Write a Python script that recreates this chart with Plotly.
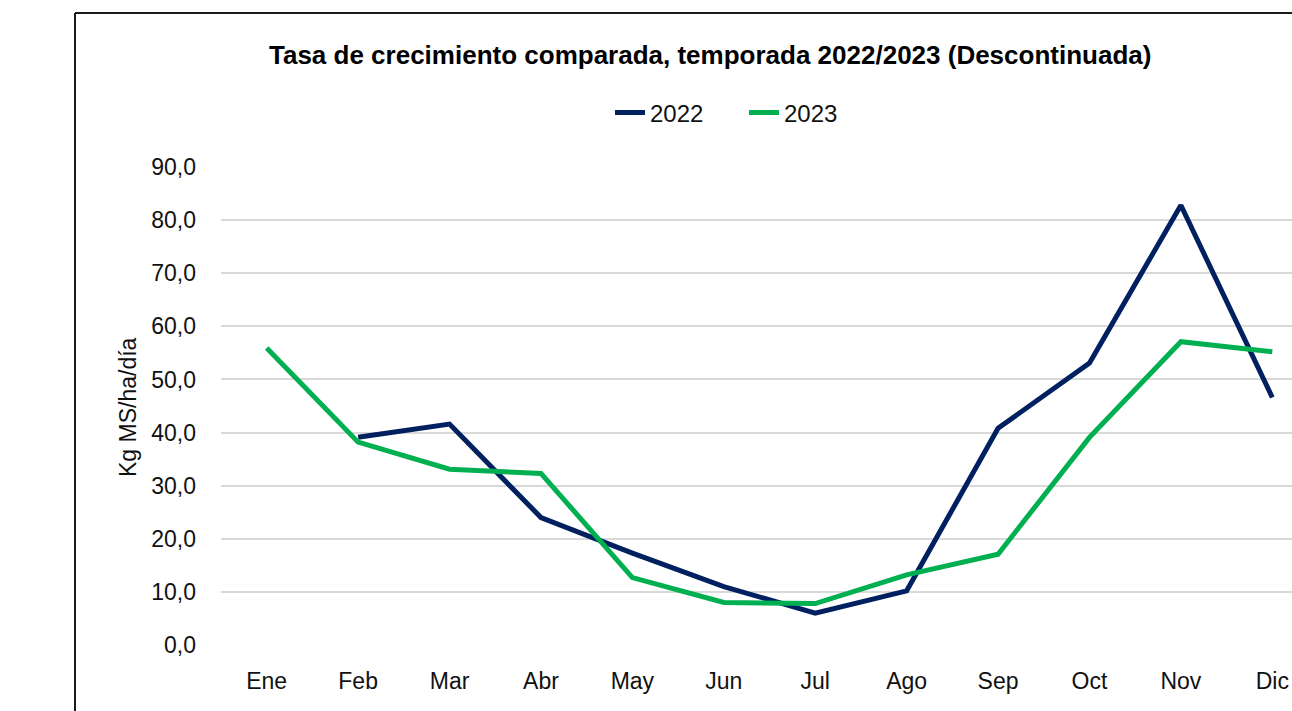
import plotly.graph_objects as go

months = ["Ene", "Feb", "Mar", "Abr", "May", "Jun", "Jul", "Ago", "Sep", "Oct", "Nov", "Dic"]
y2022 = [None, 39.1, 41.6, 24.0, 17.3, 11.0, 6.0, 10.2, 40.8, 53.1, 82.8, 46.6]
y2023 = [55.9, 38.2, 33.1, 32.3, 12.7, 8.0, 7.8, 13.2, 17.1, 39.1, 57.1, 55.2]
yticks = [0, 10, 20, 30, 40, 50, 60, 70, 80, 90]
ytick_text = ["0,0", "10,0", "20,0", "30,0", "40,0", "50,0", "60,0", "70,0", "80,0", "90,0"]

W, H = 1292, 711
L, R, T, B = 221, 0, 167, 66
pw = W - L - R
ph = H - T - B
cat_step = 91.3
overflow = 1318 - W  # plot area of the original extends past the visible edge

def px(x):
    return (x - L) / pw

def py(y):
    return (H - B - y) / ph

fig = go.Figure()
fig.add_trace(go.Scatter(x=months, y=y2022, mode="lines", name="2022",
                         line=dict(color="#002060", width=5), connectgaps=False))
fig.add_trace(go.Scatter(x=months, y=y2023, mode="lines", name="2023",
                         line=dict(color="#00B050", width=5)))

tick_font = dict(family="Liberation Sans, Arial, sans-serif", size=23, color="#111111")

fig.update_layout(
    width=W, height=H,
    margin=dict(l=L, r=R, t=T, b=B),
    paper_bgcolor="white", plot_bgcolor="white",
    showlegend=True,
    legend=dict(orientation="h", x=px(610), y=py(113), xanchor="left", yanchor="middle",
                font=dict(family="Liberation Sans, Arial, sans-serif", size=24, color="#111111"),
                entrywidth=89, entrywidthmode="pixels", tracegroupgap=0),
    xaxis=dict(range=[-0.5, 11.5 - overflow / cat_step],
               showgrid=False, zeroline=False, showline=False,
               tickfont=tick_font, ticks="", ticklabelstandoff=20, fixedrange=True),
    yaxis=dict(range=[0, 90], tickvals=yticks, ticktext=ytick_text,
               showgrid=True, gridcolor="#d9d9d9", gridwidth=2,
               zeroline=False, showline=False, tickfont=tick_font, ticks="",
               ticklabelstandoff=24),
    annotations=[
        dict(text="<b>Tasa de crecimiento comparada, temporada 2022/2023 (Descontinuada)</b>",
             xref="paper", yref="paper", x=px(710), y=py(55), xanchor="center", yanchor="middle",
             showarrow=False,
             font=dict(family="Liberation Sans, Arial, sans-serif", size=26, color="#000000")),
        dict(text="Kg MS/ha/día", xref="paper", yref="paper", x=px(128), y=py(407),
             xanchor="center", yanchor="middle", textangle=-90, showarrow=False,
             font=dict(family="Liberation Sans, Arial, sans-serif", size=23, color="#111111")),
    ],
    shapes=[
        dict(type="line", xref="paper", yref="paper", x0=px(75), x1=px(75), y0=py(720), y1=py(13),
             line=dict(color="#1a1a1a", width=2)),
        dict(type="line", xref="paper", yref="paper", x0=px(75), x1=px(1300), y0=py(13), y1=py(13),
             line=dict(color="#1a1a1a", width=2)),
    ],
)

fig.write_html("out.html", config={"displayModeBar": False},
               post_script="document.body.style.margin='0';document.body.style.overflow='hidden';")
